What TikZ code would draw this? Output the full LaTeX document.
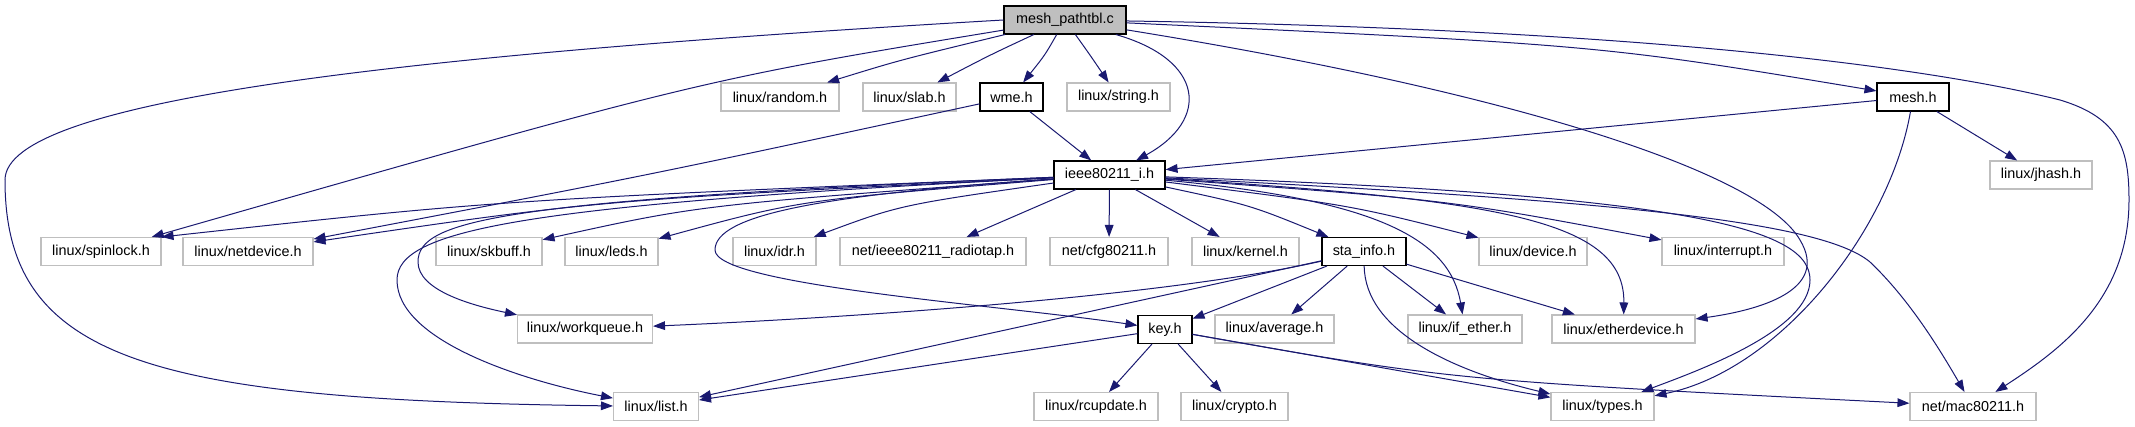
\documentclass[tikz,border=0pt]{standalone}
\usepackage{fontspec}
\setmainfont{Liberation Sans}
\usepackage{xcolor}
\usepackage{tikz}
\usetikzlibrary{arrows.meta}
\definecolor{edgeblue}{HTML}{191970}
\definecolor{boxgray}{HTML}{BFBFBF}

\begin{document}
\begin{tikzpicture}[x=0.75pt,y=-0.75pt,
    font=\fontsize{10.8}{13}\selectfont,
    wd/.style={minimum width=#1*0.75pt},
    hdr/.style={draw=boxgray, line width=0.8pt, fill=white, minimum height=21pt, inner sep=0pt},
    doc/.style={hdr, draw=black},
    src/.style={doc, fill=boxgray},
    inc/.style={draw=edgeblue, line width=0.75pt, -{Triangle[length=9pt,width=6.5pt]}}]
					\useasboundingbox (0,0) rectangle (2135,427);
					% File itself
					\node[src, wd=122] (main) at (1065,20) {mesh\_pathtbl.c};
					% Direct includes
					\node[hdr, wd=118] (random) at (780,97) {linux/random.h};
					\node[hdr, wd=93] (slab) at (909.5,97) {linux/slab.h};
					\node[doc, wd=63] (wme) at (1011.5,97) {wme.h};
					\node[hdr, wd=103] (string) at (1118.5,97) {linux/string.h};
					\node[doc, wd=72] (mesh) at (1913,97) {mesh.h};
					\node[doc, wd=111] (ieee) at (1109.5,175) {ieee80211\_i.h};
					\node[hdr, wd=102] (jhash) at (2041,175) {linux/jhash.h};
					% Headers of ieee80211_i.h
					\node[hdr, wd=120] (spinlock) at (101,251.5) {linux/spinlock.h};
					\node[hdr, wd=130] (netdevice) at (248,251.5) {linux/netdevice.h};
					\node[hdr, wd=106] (skbuff) at (489,251.5) {linux/skbuff.h};
					\node[hdr, wd=93] (leds) at (611.5,251.5) {linux/leds.h};
					\node[hdr, wd=83] (idr) at (774.5,251.5) {linux/idr.h};
					\node[hdr, wd=186] (radiotap) at (933,251.5) {net/ieee80211\_radiotap.h};
					\node[hdr, wd=118] (cfg) at (1109,251.5) {net/cfg80211.h};
					\node[hdr, wd=107] (kernel) at (1245.5,251.5) {linux/kernel.h};
					\node[doc, wd=84] (sta) at (1364,251.5) {sta\_info.h};
					\node[hdr, wd=108] (device) at (1533,251.5) {linux/device.h};
					\node[hdr, wd=122] (interrupt) at (1723,251.5) {linux/interrupt.h};
					% Headers of sta_info.h
					\node[hdr, wd=135] (workqueue) at (585,329) {linux/workqueue.h};
					\node[doc, wd=54] (key) at (1165,329.5) {key.h};
					\node[hdr, wd=119] (average) at (1274.5,329) {linux/average.h};
					\node[hdr, wd=114] (ifether) at (1465,329) {linux/if\_ether.h};
					\node[hdr, wd=143] (etherdev) at (1623.5,329) {linux/etherdevice.h};
					% Headers of key.h
					\node[hdr, wd=85] (list) at (656,406.5) {linux/list.h};
					\node[hdr, wd=124] (rcupdate) at (1096,406.5) {linux/rcupdate.h};
					\node[hdr, wd=107] (crypto) at (1234.5,406.5) {linux/crypto.h};
					\node[hdr, wd=103] (types) at (1602.5,406.5) {linux/types.h};
					\node[hdr, wd=126] (mac) at (1973,406.5) {net/mac80211.h};
					% Edges from mesh_pathtbl.c
					\draw[inc] (main.west) .. controls (400,55) and (5,100) .. (5,180) .. controls (5,360) and (150,400) .. (list);
					\draw[inc] (main) .. controls (700,80) .. (spinlock);
					\draw[inc] (main) .. controls (900,60) .. (random);
					\draw[inc] (main) .. controls (990,55) .. (slab);
					\draw[inc] (main) .. controls (1045,55) .. (wme);
					\draw[inc] (main) .. controls (1090,55) .. (string);
					\draw[inc] (main) .. controls (1205,60) and (1210,120) .. (ieee);
					\draw[inc] (main) .. controls (1600,45) .. (mesh);
					\draw[inc] (main) .. controls (1500,90) and (1760,170) .. (1800,240) .. controls (1830,290) and (1760,310) .. (etherdev);
					\draw[inc] (main) .. controls (1700,30) and (1960,75) .. (2060,100) .. controls (2120,118) and (2129,150) .. (2129,200) .. controls (2129,300) and (2060,350) .. (mac);
					% Edges from wme.h and mesh.h
					\draw[inc] (wme) -- (ieee);
					\draw[inc] (wme) .. controls (650,175) .. (netdevice);
					\draw[inc] (mesh) -- (ieee);
					\draw[inc] (mesh) -- (jhash);
					\draw[inc] (mesh) .. controls (1890,230) and (1780,370) .. (types);
					% Edges from ieee80211_i.h
					\draw[inc] (ieee) .. controls (500,200) .. (spinlock.north east);
					\draw[inc] (ieee) .. controls (600,200) .. (netdevice);
					\draw[inc] (ieee) .. controls (500,200) and (418,220) .. (418,262) .. controls (418,290) and (470,305) .. (workqueue);
					\draw[inc] (ieee) .. controls (520,205) and (397,230) .. (397,280) .. controls (397,340) and (520,380) .. (list);
					\draw[inc] (ieee) .. controls (700,205) .. (skbuff);
					\draw[inc] (ieee) .. controls (800,200) .. (leds);
					\draw[inc] (ieee) .. controls (900,205) .. (idr);
					\draw[inc] (ieee) .. controls (820,195) and (715,215) .. (715,250) .. controls (715,285) and (1000,305) .. (key);
					\draw[inc] (ieee) -- (radiotap);
					\draw[inc] (ieee) -- (cfg);
					\draw[inc] (ieee) -- (kernel);
					\draw[inc] (ieee) .. controls (1250,205) .. (sta);
					\draw[inc] (ieee) .. controls (1380,200) and (1450,240) .. (ifether);
					\draw[inc] (ieee) .. controls (1350,205) .. (device);
					\draw[inc] (ieee) .. controls (1450,200) .. (interrupt);
					\draw[inc] (ieee) .. controls (1500,200) and (1625,220) .. (etherdev);
					\draw[inc] (ieee) .. controls (1700,195) and (1810,230) .. (1810,280) .. controls (1810,330) and (1700,370) .. (types);
					\draw[inc] (ieee) .. controls (1600,200) and (1820,220) .. (1870,262) .. controls (1910,300) and (1940,350) .. (mac);
					% Edges from sta_info.h
					\draw[inc] (sta) .. controls (1150,300) and (800,320) .. (workqueue);
					\draw[inc] (sta) -- (list);
					\draw[inc] (sta) -- (key);
					\draw[inc] (sta) -- (average);
					\draw[inc] (sta) -- (ifether);
					\draw[inc] (sta) -- (etherdev);
					\draw[inc] (sta) .. controls (1365,330) and (1450,370) .. (types);
					% Edges from key.h
					\draw[inc] (key) -- (list);
					\draw[inc] (key) -- (rcupdate);
					\draw[inc] (key) -- (crypto);
					\draw[inc] (key) -- (types);
					\draw[inc] (key) .. controls (1450,380) .. (mac);
				\end{tikzpicture}
\end{document}
